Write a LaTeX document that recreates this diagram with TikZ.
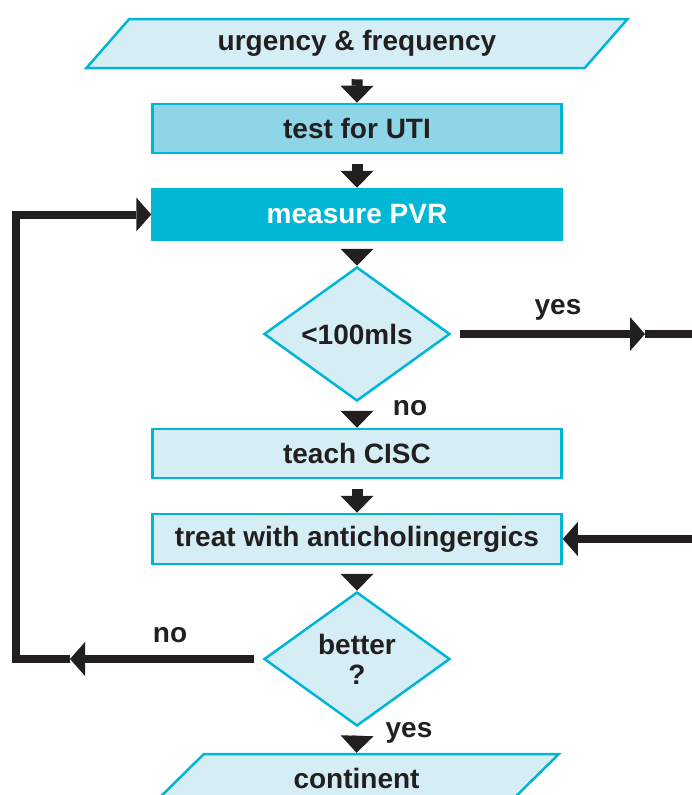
\documentclass[tikz,border=0pt]{standalone}
\usepackage{fontspec}
\setmainfont{Liberation Sans}
\usetikzlibrary{shapes.geometric,arrows.meta,calc}
\definecolor{bordercyan}{HTML}{00B5D6}
\definecolor{lightfill}{HTML}{D5EDF4}
\definecolor{midfill}{HTML}{8FD5E8}
\definecolor{darkfill}{HTML}{00B8D6}
\definecolor{ink}{HTML}{231F20}
\begin{document}
\begin{tikzpicture}[x=1pt,y=-1pt,
  every node/.style={font=\fontsize{28}{32}\selectfont\bfseries, text=ink},
  box/.style={rectangle, draw=bordercyan, line width=2.5pt, fill=lightfill,
    minimum width=409pt, minimum height=49pt, inner sep=0pt},
  io/.style={trapezium, trapezium left angle=45, trapezium right angle=135,
    trapezium stretches=true, draw=bordercyan, line width=2.5pt, fill=lightfill,
    minimum height=49pt, inner sep=0pt},
  decision/.style={diamond, shape aspect=1.39, draw=bordercyan, line width=2.5pt,
    fill=lightfill, minimum width=186pt, minimum height=134pt, inner sep=0pt,
    align=center},
  stub/.style={draw=ink, line width=11pt,
    -{Triangle[width=33pt,length=17pt,line width=0pt]}},
  flow/.style={draw=ink, line width=8pt, line join=miter},
  flowarrow/.style={flow, -{Triangle[width=34pt,length=15pt,line width=0pt]}},
  lbl/.style={inner sep=0pt, anchor=base}
]
\useasboundingbox (0,0) rectangle (692,795);
\clip (0,0) rectangle (692,795);

% nodes
\node[io, minimum width=544pt] (start) at (357,43.5) {urgency \& frequency};
\node[box, fill=midfill] (uti) at (357,128.5) {test for UTI};
\node[box, fill=darkfill, draw=darkfill, text=white, minimum height=51pt] (pvr) at (357,214.5) {measure PVR};
\node[decision] (d1) at (357,334) {<100mls};
\node[box] (cisc) at (357,453.5) {teach CISC};
\node[box, minimum height=50pt] (treat) at (357,539) {treat with anticholingergics};
\node[decision] (d2) at (357,659) {better\\[-2pt]?};
\node[io, minimum width=405pt] (end) at (356.5,778.5) {continent};

% labels
\node[lbl] (yes1) at (558,314) {yes};
\node[lbl] (no1) at (410,415) {no};
\node[lbl] (no2) at (170,642) {no};
\node[lbl] (yes2) at (409,737) {yes};

% short arrows
\draw[stub] ([yshift=-10pt]start.south) -- (uti.north);
\draw[stub] ([yshift=-10pt]uti.south) -- (pvr.north);
\draw[stub] ([yshift=-9pt]pvr.south) -- (d1.north);
\draw[stub] ([yshift=-11pt]d1.south) -- (cisc.north);
\draw[stub] ([yshift=-10pt]cisc.south) -- (treat.north);
\draw[stub] ([yshift=-10pt]treat.south) -- (d2.north);
\draw[stub] ([yshift=-10pt]d2.south) -- (end.north);

% yes exit
\coordinate (yesHead) at (645,334);
\coordinate (yesEnd) at (692,334);
\draw[flowarrow] ([xshift=9pt]d1.east) -- (yesHead);
\draw[flow] (yesHead) -- (yesEnd);

% entry from right
\coordinate (rightStart) at (692,539);
\draw[flowarrow] (rightStart) -- (treat.east);

% loop back
\coordinate (noHead) at (70,659);
\coordinate (loopCorner) at (16,659);
\draw[flowarrow] ([xshift=-9pt]d2.west) -- (noHead);
\draw[flowarrow] (noHead) -- (loopCorner) |- (pvr.west);
\end{tikzpicture}
\end{document}
